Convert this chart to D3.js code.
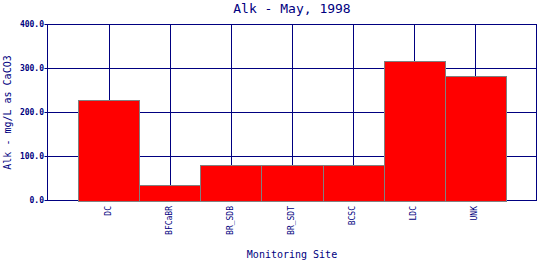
<!DOCTYPE html>
<html>
<head>
<meta charset="utf-8">
<script src="https://cdn.jsdelivr.net/npm/d3@7"></script>
<style>
  html, body { margin: 0; padding: 0; background: #fff; }
  svg { display: block; }
</style>
</head>
<body>
<svg id="chart" width="540" height="260"></svg>
<script>
const categories = ["DC", "BFCaBR", "BR_SDB", "BR_SDT", "BCSC", "LDC", "UNK"];
const values = [228, 36, 80, 80, 80, 318, 284];
const yTicks = [0, 100, 200, 300, 400];
const titleText = "Alk - May, 1998";
const xTitle = "Monitoring Site";
const yTitle = "Alk - mg/L as CaCO3";

const navy = "#000080";
const font = "'DejaVu Sans Mono', 'Liberation Mono', monospace";
const svg = d3.select("#chart");

const L = 47.5, R = 536.5, T = 24.5, B = 200.5;

const x = d3.scaleBand().domain(categories).range([L, R]).paddingInner(0).paddingOuter(0.5);
const y = d3.scaleLinear().domain([0, 400]).range([B, T]);

// horizontal grid
svg.append("g").selectAll("line").data(yTicks).join("line")
  .attr("x1", L - 3).attr("x2", R)
  .attr("y1", d => y(d)).attr("y2", d => y(d))
  .attr("stroke", navy).attr("stroke-width", 1);

// vertical grid
svg.append("g").selectAll("line").data(categories).join("line")
  .attr("x1", d => Math.round(x(d) + x.bandwidth() / 2) + 0.5)
  .attr("x2", d => Math.round(x(d) + x.bandwidth() / 2) + 0.5)
  .attr("y1", T).attr("y2", B)
  .attr("stroke", navy).attr("stroke-width", 1);

// frame
svg.append("rect").attr("x", L).attr("y", T).attr("width", R - L).attr("height", B - T)
  .attr("fill", "none").attr("stroke", navy).attr("stroke-width", 1);

// bars
svg.append("g").selectAll("rect").data(categories).join("rect")
  .attr("x", d => Math.round(x(d)) + 0.5)
  .attr("width", d => Math.round(x(d) + x.bandwidth()) - Math.round(x(d)))
  .attr("y", (d, i) => Math.round(y(values[i])) + 0.5)
  .attr("height", (d, i) => Math.round(B) - Math.round(y(values[i])))
  .attr("fill", "#ff0000").attr("stroke", "#808080").attr("stroke-width", 1);

// y tick labels
svg.append("g").selectAll("text").data(yTicks).join("text")
  .attr("x", 44).attr("y", d => y(d)).attr("dy", "0.35em")
  .attr("text-anchor", "end")
  .attr("font-family", font).attr("font-size", 8).attr("font-weight", "bold")
  .attr("fill", navy)
  .text(d => d3.format(".1f")(d));

// x tick labels (rotated)
svg.append("g").selectAll("text").data(categories).join("text")
  .attr("transform", d => `translate(${x(d) + x.bandwidth() / 2 + 2},206) rotate(-90)`)
  .attr("text-anchor", "end")
  .attr("font-family", font).attr("font-size", 8)
  .attr("fill", navy)
  .text(d => d);

// title
svg.append("text").attr("x", (L + R) / 2).attr("y", 13)
  .attr("text-anchor", "middle")
  .attr("font-family", font).attr("font-size", 13)
  .attr("fill", navy).text(titleText);

// x axis title
svg.append("text").attr("x", (L + R) / 2).attr("y", 258)
  .attr("text-anchor", "middle")
  .attr("font-family", font).attr("font-size", 10)
  .attr("fill", navy).text(xTitle);

// y axis title
svg.append("text").attr("transform", `translate(11,${(T + B) / 2}) rotate(-90)`)
  .attr("text-anchor", "middle")
  .attr("font-family", font).attr("font-size", 10)
  .attr("fill", navy).text(yTitle);
</script>
</body>
</html>
